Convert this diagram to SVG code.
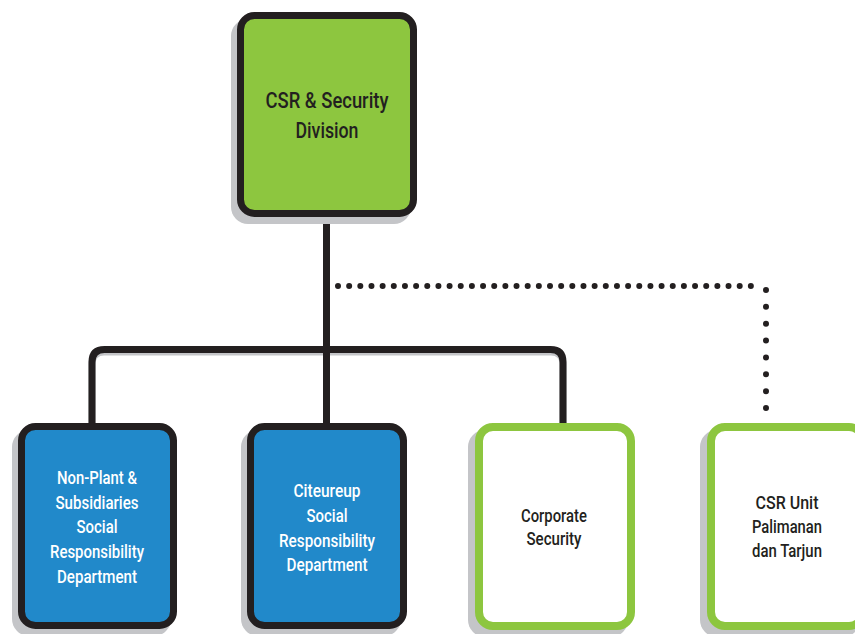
<svg xmlns="http://www.w3.org/2000/svg" width="855" height="634" viewBox="0 0 855 634">
<style>
.shadow{fill:#c4c5c8}
.box{stroke-width:7}
.dark{stroke:#231f20}
.green{fill:#8dc63f}
.blue{fill:#2189ca}
.white{fill:#ffffff;stroke:#8dc63f;stroke-width:8}
text{font-family:Roboto,"Liberation Sans",sans-serif;font-weight:500;text-anchor:middle}
.tw{fill:#ffffff;font-size:19px}
.td{fill:#231f20;font-size:19px}
.tt{fill:#231f20;font-size:22px}
.line{fill:none;stroke:#231f20;stroke-width:7}
.lshadow{fill:none;stroke:#c4c5c8;stroke-width:7}
.dots{fill:none;stroke:#231f20;stroke-width:6;stroke-linecap:round}
</style>
<g id="connectors">
<path class="lshadow" d="M 92 426 V 364 Q 92 352 104 352 H 551 Q 563 352 563 364 V 426"/>
<path class="line" d="M 326.5 214 V 426"/>
<path class="line" d="M 92 426 V 362 Q 92 349.5 104.5 349.5 H 550.5 Q 563 349.5 563 362 V 426"/>
<path class="dots" d="M 338 286 H 762" stroke-dasharray="0 11.158"/>
<path class="dots" d="M 766 290 V 408" stroke-dasharray="0 16.857"/>
</g>
<g id="csr-security-division">
<rect class="shadow" x="231" y="19" width="180" height="205" rx="17"/>
<rect class="box dark green" x="240.5" y="15.5" width="173" height="198" rx="14"/>
<text class="tt" x="327" y="108" textLength="123" lengthAdjust="spacingAndGlyphs">CSR &amp; Security</text>
<text class="tt" x="327" y="138" textLength="63" lengthAdjust="spacingAndGlyphs">Division</text>
</g>
<g id="non-plant">
<rect class="shadow" x="12" y="430" width="159" height="206" rx="17"/>
<rect class="box dark blue" x="21.5" y="426.5" width="152" height="199" rx="14"/>
<text class="tw" x="97" y="484" textLength="80" lengthAdjust="spacingAndGlyphs">Non-Plant &amp;</text>
<text class="tw" x="97" y="509" textLength="83" lengthAdjust="spacingAndGlyphs">Subsidiaries</text>
<text class="tw" x="97" y="533" textLength="41" lengthAdjust="spacingAndGlyphs">Social</text>
<text class="tw" x="97" y="558" textLength="94" lengthAdjust="spacingAndGlyphs">Responsibility</text>
<text class="tw" x="97" y="583" textLength="80" lengthAdjust="spacingAndGlyphs">Department</text>
</g>
<g id="citeureup">
<rect class="shadow" x="241" y="430" width="160" height="206" rx="17"/>
<rect class="box dark blue" x="250.5" y="426.5" width="153" height="199" rx="14"/>
<text class="tw" x="327" y="497" textLength="67" lengthAdjust="spacingAndGlyphs">Citeureup</text>
<text class="tw" x="327" y="522" textLength="41" lengthAdjust="spacingAndGlyphs">Social</text>
<text class="tw" x="327" y="547" textLength="96" lengthAdjust="spacingAndGlyphs">Responsibility</text>
<text class="tw" x="327" y="571" textLength="81" lengthAdjust="spacingAndGlyphs">Department</text>
</g>
<g id="corporate-security">
<rect class="shadow" x="468" y="430" width="160" height="207" rx="17"/>
<rect class="white" x="479" y="427" width="152" height="199" rx="14"/>
<text class="td" x="554" y="522" textLength="66" lengthAdjust="spacingAndGlyphs">Corporate</text>
<text class="td" x="554" y="545" textLength="55" lengthAdjust="spacingAndGlyphs">Security</text>
</g>
<g id="csr-unit">
<rect class="shadow" x="700" y="430" width="160" height="207" rx="17"/>
<rect class="white" x="711" y="427" width="152" height="199" rx="14"/>
<text class="td" x="787" y="509" textLength="63" lengthAdjust="spacingAndGlyphs">CSR Unit</text>
<text class="td" x="787" y="533" textLength="70" lengthAdjust="spacingAndGlyphs">Palimanan</text>
<text class="td" x="787" y="557" textLength="70" lengthAdjust="spacingAndGlyphs">dan Tarjun</text>
</g>
</svg>
